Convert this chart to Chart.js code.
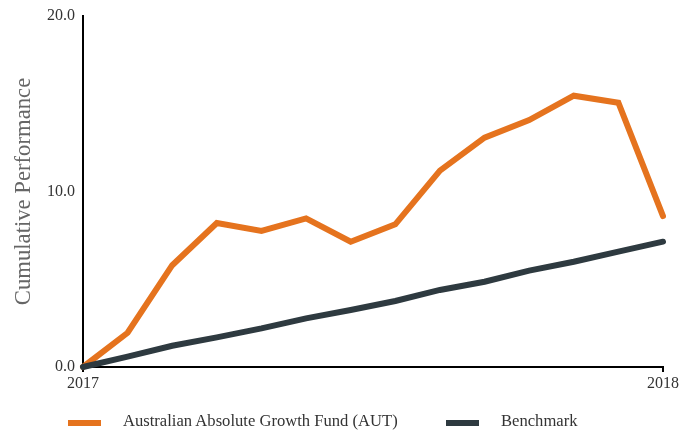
<!DOCTYPE html>
<html>
<head>
<meta charset="utf-8">
<script src="https://cdn.jsdelivr.net/npm/chart.js@4/dist/chart.umd.min.js"></script>
<style>
  html, body { margin: 0; padding: 0; background: #fff; }
  #wrap { position: relative; width: 693px; height: 430px; }
  canvas { position: absolute; left: 0; top: 0; }
  .leg { position: absolute; top: 411px; height: 20px; font-family: "Liberation Serif", serif; font-size: 16.6px; color: #333; white-space: nowrap; line-height: 20px; }
  .sw { position: absolute; top: 9px; width: 33px; height: 6px; }
</style>
</head>
<body>
<div id="wrap">
  <canvas id="c" width="693" height="430"></canvas>
  <div class="leg" style="left:68px;"><span class="sw" style="left:0;background:#E5731E"></span><span style="position:absolute;left:55px;" id="l0"></span></div>
  <div class="leg" style="left:446px;"><span class="sw" style="left:0;background:#2E3A40"></span><span style="position:absolute;left:55px;" id="l1"></span></div>
</div>
<script>
const seriesNames = ['Australian Absolute Growth Fund (AUT)', 'Benchmark'];
const fundValues = [0, 1.95, 5.8, 8.2, 7.75, 8.47, 7.14, 8.13, 11.19, 13.07, 14.07, 15.46, 15.06, 8.6];
const benchmarkValues = [0, 0.59, 1.21, 1.69, 2.2, 2.77, 3.25, 3.76, 4.39, 4.86, 5.49, 6.0, 6.57, 7.14];
const xTickLabels = ['2017', '2018'];
const yTicks = [0, 10, 20];

document.getElementById('l0').textContent = seriesNames[0];
document.getElementById('l1').textContent = seriesNames[1];

const lastIdx = fundValues.length - 1;
const toPts = arr => arr.map((v, i) => ({ x: i, y: v }));
const FONT = 'Liberation Serif';

new Chart(document.getElementById('c'), {
  type: 'line',
  data: {
    datasets: [
      { label: seriesNames[0], data: toPts(fundValues), borderColor: '#E5731E', backgroundColor: '#E5731E',
        borderWidth: 6, pointRadius: 0, tension: 0, borderJoinStyle: 'miter', borderCapStyle: 'round', clip: false, order: 1 },
      { label: seriesNames[1], data: toPts(benchmarkValues), borderColor: '#2E3A40', backgroundColor: '#2E3A40',
        borderWidth: 6, pointRadius: 0, tension: 0, borderJoinStyle: 'miter', borderCapStyle: 'round', clip: false, order: 0 }
    ]
  },
  options: {
    responsive: false,
    animation: false,
    layout: { padding: { left: 0, right: 30, top: 16, bottom: 0 } },
    plugins: { legend: { display: false }, tooltip: { enabled: false } },
    scales: {
      x: {
        type: 'linear', min: 0, max: lastIdx,
        afterBuildTicks: s => { s.ticks = [{ value: 0 }, { value: lastIdx }]; },
        afterFit: s => { s.height = 63; },
        border: { display: true, color: '#000', width: 2 },
        grid: { display: true, drawOnChartArea: false, drawTicks: true, tickLength: 5, color: '#000', lineWidth: 2 },
        ticks: { padding: 2, color: '#333', font: { family: FONT, size: 16 }, maxRotation: 0,
          callback: (v) => v === 0 ? xTickLabels[0] : (v === lastIdx ? xTickLabels[1] : '') }
      },
      y: {
        min: 0, max: 20,
        afterBuildTicks: s => { s.ticks = yTicks.map(v => ({ value: v })); },
        afterFit: s => { s.width = 83; },
        border: { display: true, color: '#000', width: 2 },
        grid: { display: true, drawOnChartArea: false, drawTicks: true, tickLength: 3,
          color: ctx => (ctx.tick && ctx.tick.value === 0) ? '#000' : 'rgba(0,0,0,0)', lineWidth: 2 },
        ticks: { padding: 5, color: '#333', font: { family: FONT, size: 16 }, callback: v => v.toFixed(1) },
        title: { display: true, text: 'Cumulative Performance', color: '#666', font: { family: FONT, size: 22.7 }, padding: { top: 10, bottom: 0 } }
      }
    }
  }
});
</script>
</body>
</html>
